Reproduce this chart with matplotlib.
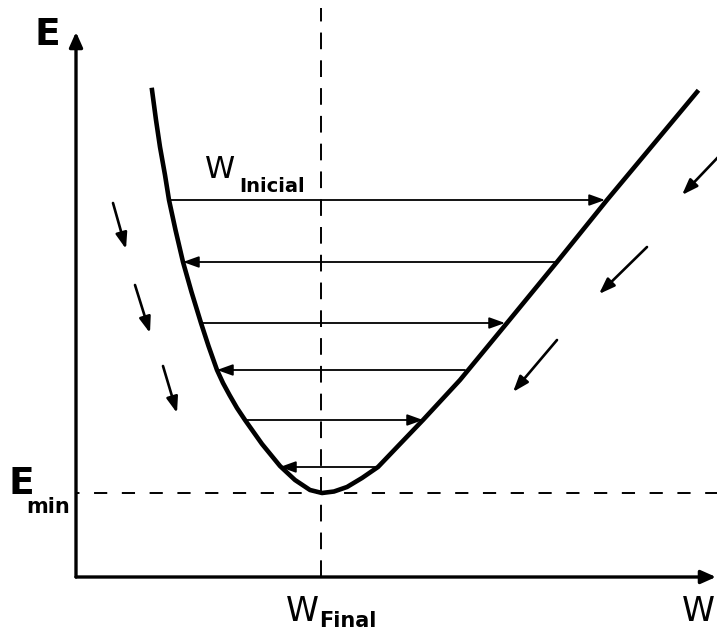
"""Energy well schematic: E vs W with bouncing iterations down to E_min."""

import matplotlib

matplotlib.use("Agg")
import matplotlib.pyplot as plt
from matplotlib.patches import ArrowStyle

plt.rcParams["font.family"] = ["DejaVu Sans"]
plt.rcParams["lines.scale_dashes"] = False

# curve E(W) (arbitrary units)
curve_w = [7.6, 8.0, 8.4, 8.9, 9.3, 9.95, 10.7, 11.55, 12.5, 13.25, 14.1, 14.7,
           15.35, 16.1, 16.9, 18.6, 20.4, 21.9, 23.4, 24.6, 25.8, 27.1, 28.6,
           30.2, 32.4, 34.7, 38.4, 43.1, 48.1, 53.1, 62.1]
curve_e = [48.7, 45.7, 43.0, 40.2, 37.7, 34.7, 31.5, 28.5, 25.4, 23.1, 20.7, 19.4,
           18.2, 16.9, 15.7, 13.3, 11.1, 9.7, 8.7, 8.4, 8.55, 9.0, 9.9,
           11.0, 13.3, 15.7, 19.7, 25.4, 31.5, 37.7, 48.5]

# horizontal jumps between the two walls
level_e = [37.7, 31.5, 25.4, 20.7, 15.7, 11.0]
level_w_left = [9.3, 10.7, 12.5, 14.1, 16.9, 20.4]
level_w_right = [52.9, 48.0, 42.9, 38.9, 34.7, 30.2]

# small drift arrows (start w, start e, end w, end e)
drift_left = [(3.7, 37.4, 5.0, 32.8), (5.9, 29.2, 7.4, 24.4), (8.7, 21.1, 10.1, 16.4)]
drift_right = [(64.6, 42.4, 60.6, 38.2), (57.1, 33.0, 52.3, 28.3), (48.1, 23.7, 43.7, 18.5)]

w_final = 24.5
e_min = 8.4
w_max = 64.0
e_max = 54.5

fig = plt.figure(figsize=(7.17, 6.32), dpi=100)
ax = fig.add_axes([0, 0, 1, 1])
ax.set_xlim(-7.6, 64.1)
ax.set_ylim(-5.5, 57.7)
ax.axis("off")

head = ArrowStyle("-|>", head_length=0.5, head_width=0.18)
axis_head = ArrowStyle("-|>", head_length=0.45, head_width=0.2)


def arrow(x0, y0, x1, y1, lw, style=head, ms=19):
    ax.annotate("", xy=(x1, y1), xytext=(x0, y0),
                arrowprops=dict(arrowstyle=style, color="black", lw=lw,
                                mutation_scale=ms, shrinkA=0, shrinkB=0),
                annotation_clip=False)


# axes
arrow(0, 0, w_max, 0, 2.4, axis_head, 20)
arrow(0, 0, 0, e_max, 2.4, axis_head, 20)

# guides
ax.plot([0, 64.1], [e_min, e_min], color="black", lw=1.4,
        linestyle=(-13, (9.5, 10.5)), zorder=1)
ax.plot([w_final, w_final], [0, 56.9], color="black", lw=1.4,
        linestyle=(0, (12, 8)), zorder=1)

# energy curve
ax.plot(curve_w, curve_e, color="black", lw=3.3, solid_joinstyle="round", zorder=3)

# bouncing steps, alternating direction
for i, (e, wl, wr) in enumerate(zip(level_e, level_w_left, level_w_right)):
    if i % 2 == 0:
        arrow(wl, e, wr, e, 1.3)
    else:
        arrow(wr, e, wl, e, 1.3)

for x0, y0, x1, y1 in drift_left + drift_right:
    arrow(x0, y0, x1, y1, 1.9)

# labels
ax.text(-4.2, 53.2, "E", fontsize=27, fontweight="bold", va="baseline", ha="left")
ax.text(-6.7, 8.3, "E", fontsize=27, fontweight="bold", va="baseline", ha="left")
ax.text(-5.0, 6.4, "min", fontsize=15, fontweight="bold", va="baseline", ha="left")

ax.text(12.9, 39.9, "W", fontsize=22, va="baseline", ha="left")
ax.text(16.3, 38.5, "Inicial", fontsize=14, fontweight="bold", va="baseline", ha="left")

ax.text(21.0, -4.4, "W", fontsize=24, va="baseline", ha="left")
ax.text(24.3, -5.0, "Final", fontsize=15, fontweight="bold", va="baseline", ha="left")

ax.text(60.6, -4.4, "W", fontsize=24, va="baseline", ha="left")

fig.savefig("out.png", dpi=100)
plt.close(fig)
